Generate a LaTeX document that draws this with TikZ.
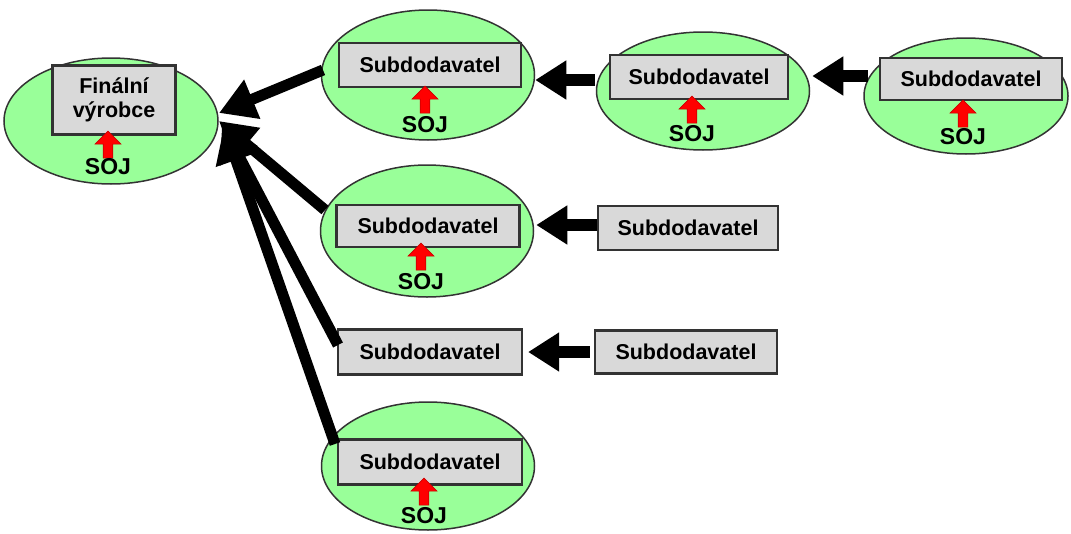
\documentclass[tikz,border=0pt]{standalone}
\usepackage{fontspec}
\setmainfont{Liberation Sans}
\usetikzlibrary{arrows.meta,shapes.geometric,shapes.arrows}
\definecolor{firmgreen}{HTML}{99FF99}
\definecolor{boxgray}{HTML}{D9D9D9}
\definecolor{edgegray}{HTML}{333333}
\tikzset{
  firm/.style={ellipse, draw=edgegray, line width=1.5pt, fill=firmgreen, inner sep=0pt},
  supbox/.style={rectangle, draw=edgegray, line width=2.2pt, fill=boxgray, inner sep=0pt,
    minimum width=182pt, minimum height=44pt, font=\fontsize{21.5}{24}\selectfont\bfseries},
  sojlabel/.style={font=\fontsize{23}{24}\selectfont\bfseries, text=black, inner sep=0pt},
  sojarrow/.style={single arrow, draw=red!80!black, line width=0.6pt, fill=red, rotate=90,
    minimum height=27pt, minimum width=26pt, single arrow head extend=6pt,
    single arrow head indent=0pt, inner sep=3.2pt},
  flow/.style={line width=11pt, -{Triangle[length=36pt,width=40pt]}},
  sideflow/.style={line width=12pt, -{Triangle[length=31pt,width=37pt]}}
}
\begin{document}
\begin{tikzpicture}[x=1pt,y=-1pt]
\useasboundingbox (0,0) rectangle (1071,533);

% final producer
\node[firm, minimum width=214pt, minimum height=126pt] (e0) at (111,121) {};
\node[supbox, minimum width=123pt, minimum height=69pt, align=center,
  font=\fontsize{21.5}{24}\selectfont\bfseries] (b0) at (114,100) {Finální\\výrobce};
\node[sojarrow] (r0) at (108,147) {};
\node[sojlabel] (s0) at (108,167) {SOJ};

% first tier, top
\node[firm, minimum width=213pt, minimum height=130pt] (e1) at (428,75) {};
\node[supbox] (b1) at (430,65) {Subdodavatel};
\node[sojarrow] (r1) at (425,102) {};
\node[sojlabel] (s1) at (425,125) {SOJ};

% second tier, top
\node[firm, minimum width=213pt, minimum height=118pt] (e2) at (703,91) {};
\node[supbox, minimum width=178pt] (b2) at (699,77) {Subdodavatel};
\node[sojarrow] (r2) at (692,112) {};
\node[sojlabel] (s2) at (692,134) {SOJ};

% third tier, top
\node[firm, minimum width=204pt, minimum height=116pt] (e3) at (966,96) {};
\node[supbox, minimum width=182pt, minimum height=42pt] (b3) at (971,79) {Subdodavatel};
\node[sojarrow] (r3) at (963,116) {};
\node[sojlabel] (s3) at (963,137) {SOJ};

% first tier, middle
\node[firm, minimum width=213pt, minimum height=132pt] (e4) at (427,231) {};
\node[supbox, minimum width=183pt, minimum height=42pt] (b4) at (428,226) {Subdodavatel};
\node[sojarrow] (r4) at (421,259) {};
\node[sojlabel] (s4) at (421,282) {SOJ};

\node[supbox, minimum width=180pt] (b5) at (688,228) {Subdodavatel};

% first tier without own unit
\node[supbox, minimum width=184pt, minimum height=45pt] (b6) at (430,352) {Subdodavatel};
\node[supbox, minimum width=182pt, minimum height=43pt] (b7) at (686,352) {Subdodavatel};

% first tier, bottom
\node[firm, minimum width=213pt, minimum height=128pt] (e8) at (428,466) {};
\node[supbox, minimum width=184pt, minimum height=45pt] (b8) at (430,462) {Subdodavatel};
\node[sojarrow] (r8) at (424,494) {};
\node[sojlabel] (s8) at (424,516) {SOJ};

% deliveries towards the final producer
\coordinate (t1) at (219,113);
\coordinate (t2) at (219,121);
\coordinate (t3) at (222,124);
\coordinate (t4) at (224,126);
\coordinate (f1) at (323,70);
\coordinate (f2) at (325,210);
\coordinate (f3) at (338,345);
\coordinate (f4) at (335,444);
\draw[flow] (f1) -- (t1);
\draw[flow] (f2) -- (t2);
\draw[flow] (f3) -- (t3);
\draw[flow] (f4) -- (t4);

% deliveries between tiers
\coordinate (a1) at (595,80);
\coordinate (a2) at (868,76);
\coordinate (a3) at (597,225);
\draw[sideflow] (a1) -- (e1.east |- a1);
\draw[sideflow] (a2) -- ([xshift=2pt]e2.east |- a2);
\draw[sideflow] (a3) -- ([xshift=2pt]e4.east |- a3);
\draw[sideflow] ([xshift=-4pt]b7.west) -- ([xshift=5pt]b6.east);
\end{tikzpicture}
\end{document}
